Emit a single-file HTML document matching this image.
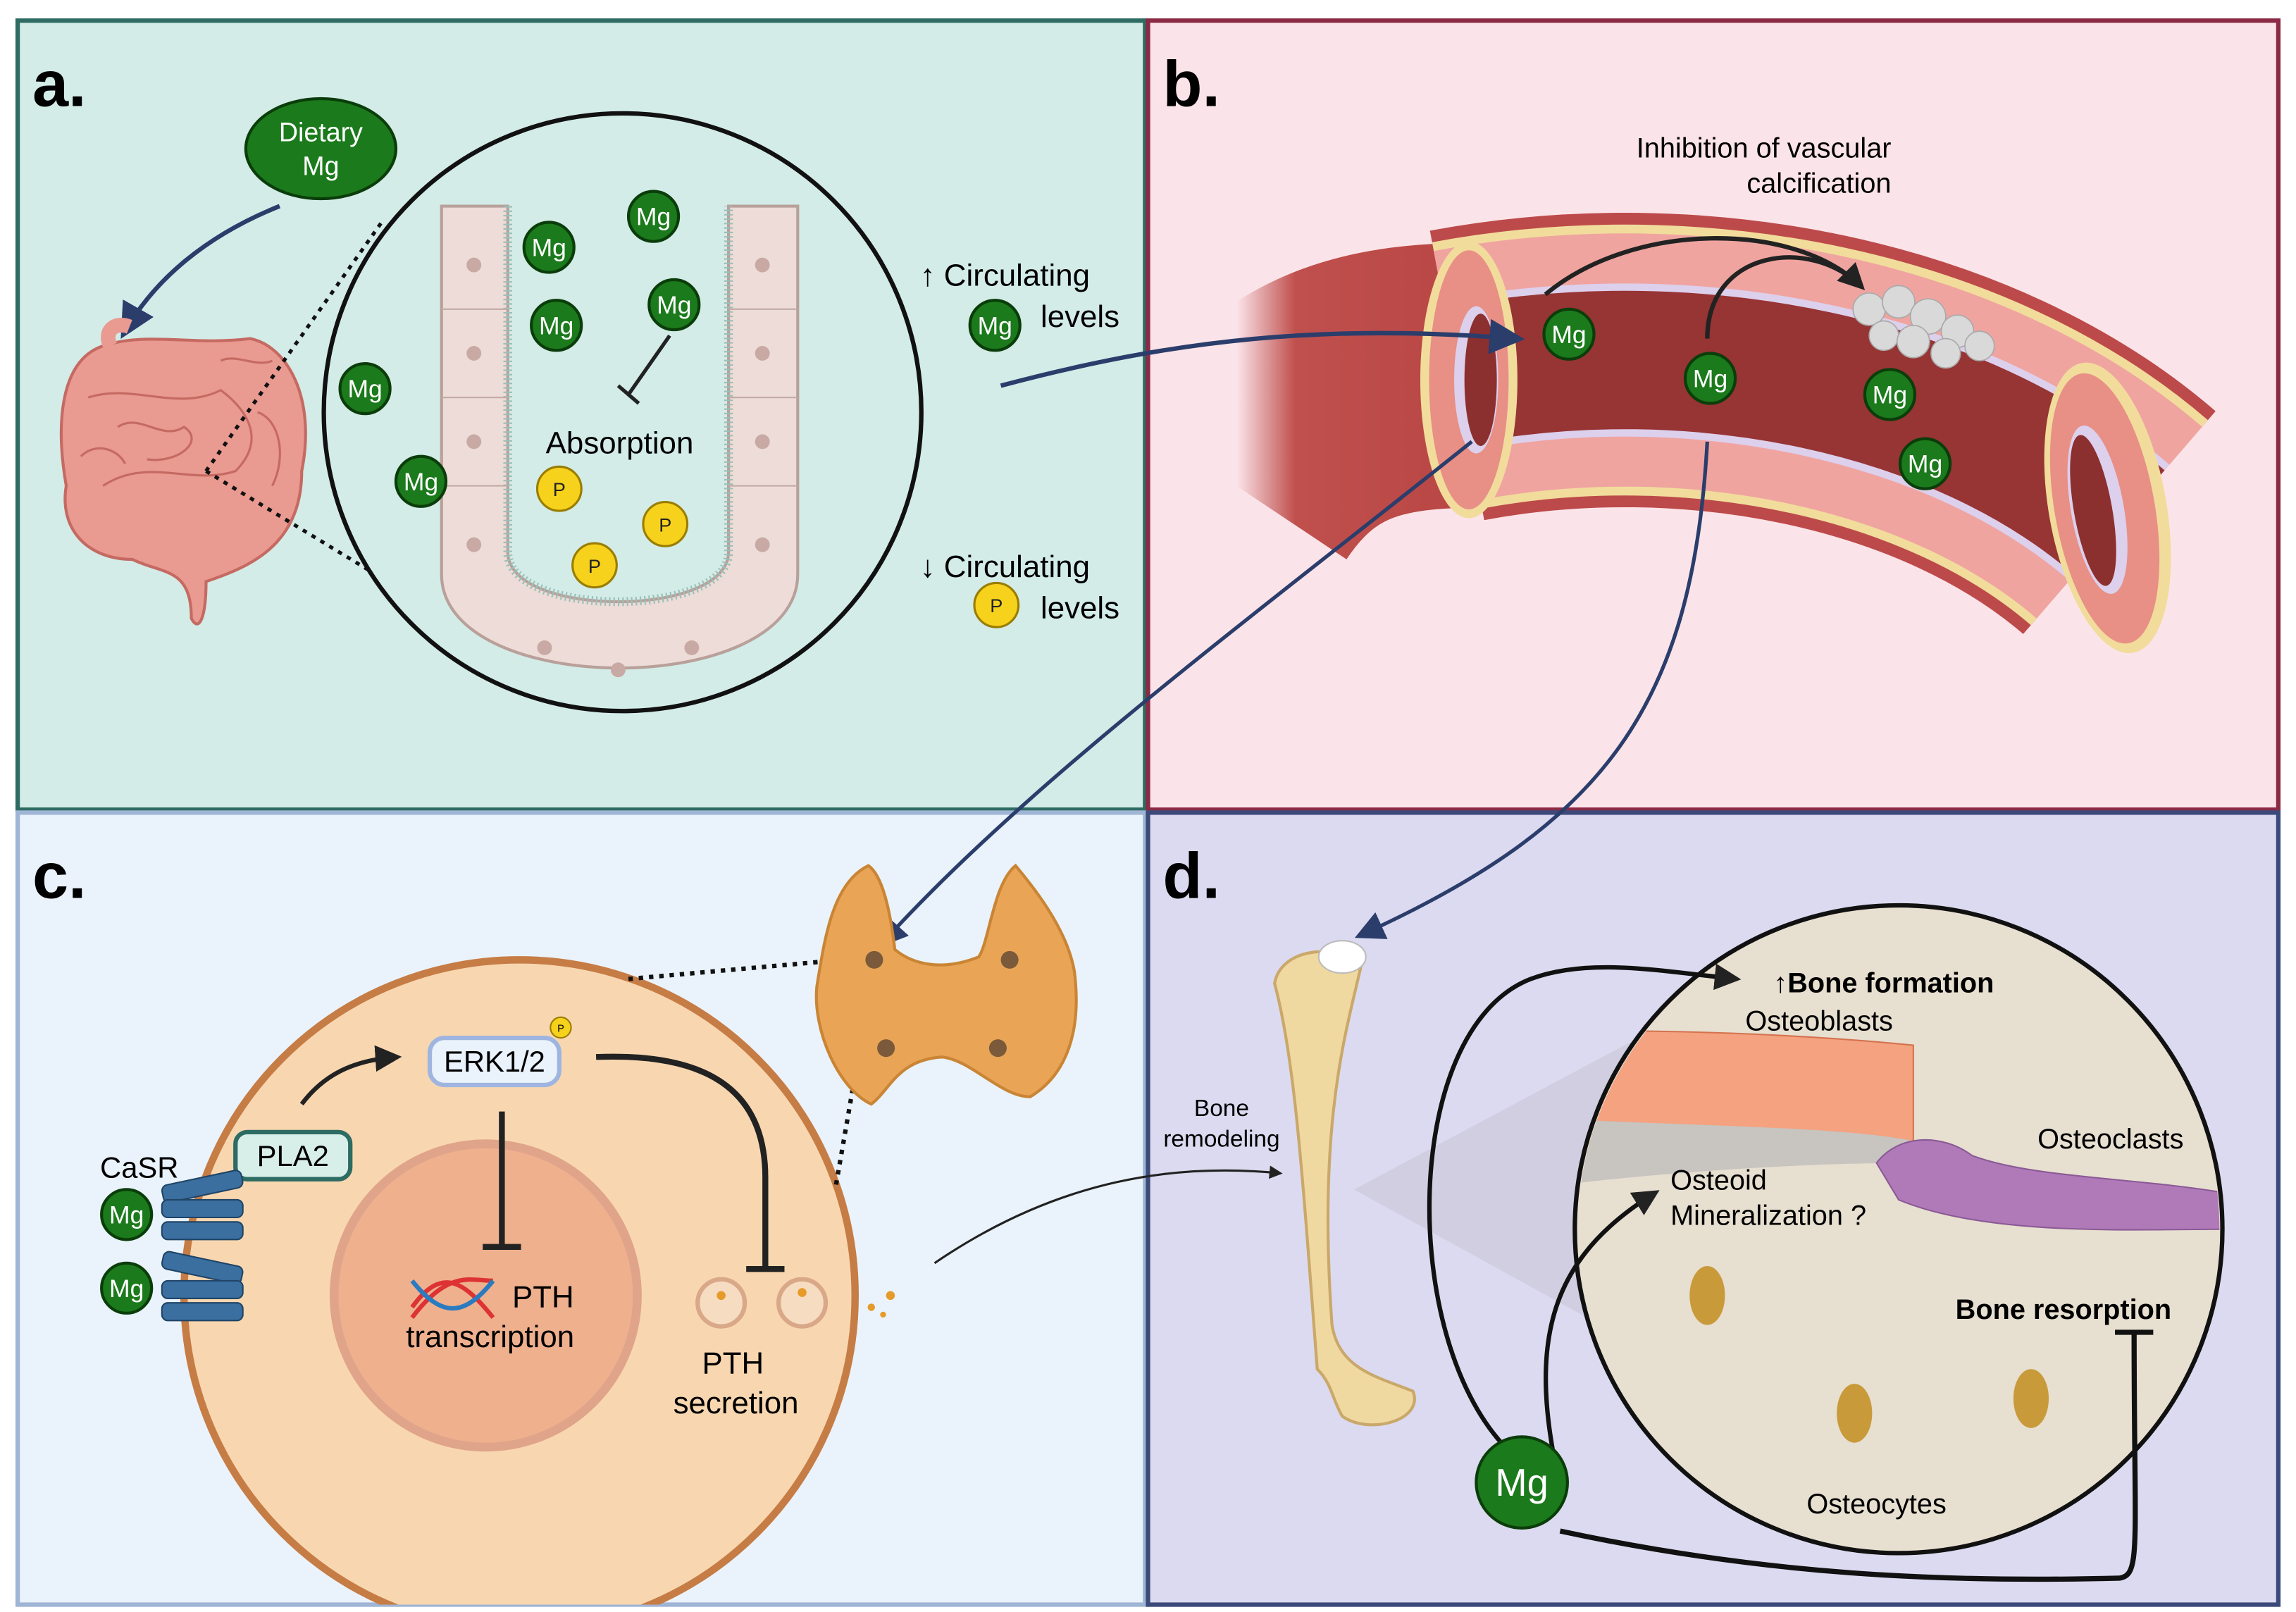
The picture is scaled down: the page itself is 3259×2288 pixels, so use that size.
<!DOCTYPE html>
<html><head><meta charset="utf-8"><style>
html,body{margin:0;padding:0;background:#fff;}
svg{display:block;}
text{font-family:"Liberation Sans",sans-serif;}
</style></head><body>
<svg width="3259" height="2288" viewBox="0 0 1560 1095" preserveAspectRatio="none" xmlns="http://www.w3.org/2000/svg">
<defs>
<marker id="ah" markerWidth="8" markerHeight="8" refX="6" refY="4" orient="auto" markerUnits="strokeWidth"><path d="M0,0 L8,4 L0,8 z" fill="#2b3d6b"/></marker>
<marker id="ak" markerWidth="6" markerHeight="6" refX="5" refY="3" orient="auto" markerUnits="strokeWidth"><path d="M0,0 L6,3 L0,6 z" fill="#222"/></marker>
<linearGradient id="fadeL" x1="0" x2="1" y1="0" y2="0"><stop offset="0" stop-color="#c0504d" stop-opacity="0"/><stop offset="0.25" stop-color="#c0504d"/><stop offset="1" stop-color="#b84644"/></linearGradient>
<clipPath id="cc"><rect x="12" y="552" width="766" height="538"/></clipPath>
<clipPath id="dc"><circle cx="1290" cy="835" r="218"/></clipPath>
<g id="mg"><circle r="17" fill="#1b7a1b" stroke="#0b3d0b" stroke-width="2"/><text y="6" text-anchor="middle" font-size="17" fill="#fff">Mg</text></g>
<g id="p"><circle r="15" fill="#f7d21c" stroke="#9a7d00" stroke-width="1.5"/><text y="5" text-anchor="middle" font-size="13" fill="#222">P</text></g>
</defs>
<!-- panels -->
<rect x="12" y="14" width="766" height="536" fill="#d3ece8" stroke="#2d6b63" stroke-width="3"/>
<rect x="780" y="14" width="768" height="536" fill="#fbe4e9" stroke="#8b2a45" stroke-width="3"/>
<rect x="12" y="552" width="766" height="538" fill="#eaf3fb" stroke="#9fb5d5" stroke-width="3"/>
<rect x="780" y="552" width="768" height="538" fill="#dcdaf0" stroke="#3c4a7a" stroke-width="3"/>
<text x="22" y="72" font-size="44" font-weight="bold">a.</text>
<text x="790" y="72" font-size="44" font-weight="bold">b.</text>
<text x="22" y="610" font-size="44" font-weight="bold">c.</text>
<text x="790" y="610" font-size="44" font-weight="bold">d.</text>

<!-- Panel a -->
<ellipse cx="218" cy="101" rx="51" ry="34" fill="#1b7a1b" stroke="#0b3d0b" stroke-width="2"/>
<text x="218" y="96" text-anchor="middle" font-size="18" fill="#fff">Dietary</text>
<text x="218" y="119" text-anchor="middle" font-size="18" fill="#fff">Mg</text>
<path d="M190,140 C140,160 105,190 85,225" fill="none" stroke="#2b3d6b" stroke-width="3" marker-end="url(#ah)"/>
<!-- intestine -->
<path d="M70,235 C40,245 38,290 45,330 C40,360 60,380 90,380 C110,390 130,385 130,420 C135,430 140,420 140,395 C170,385 205,370 205,320 C215,270 195,235 170,230 C130,235 100,225 70,235 z" fill="#e99a91" stroke="#c56a62" stroke-width="2"/>
<g fill="none" stroke="#c56a62" stroke-width="1.5"><path d="M60,270 C90,260 120,280 150,265 C170,280 180,300 160,320 C130,330 100,310 70,330"/><path d="M80,290 C95,280 110,300 125,290 C140,300 120,315 100,312"/><path d="M55,310 C65,300 80,305 85,315"/><path d="M150,245 C160,240 175,250 185,245"/><path d="M175,280 C190,285 195,310 185,330"/></g>
<path d="M75,235 C70,225 78,218 88,222" fill="none" stroke="#e99a91" stroke-width="10"/>
<path d="M140,320 L260,150 M140,320 L255,390" stroke="#111" stroke-width="2.5" stroke-dasharray="3,4"/>
<circle cx="423" cy="280" r="203" fill="#d3ece8" stroke="#111" stroke-width="3"/>
<!-- villus U -->
<path d="M300,140 L345,140 L345,375 C345,420 495,420 495,375 L495,140 L542,140 L542,390 C542,475 300,475 300,390 z" fill="#eddcd8" stroke="#b9a09a" stroke-width="2"/>
<path d="M345,140 L345,375 C345,420 495,420 495,375 L495,140" fill="none" stroke="#9ac0b8" stroke-width="6" stroke-dasharray="1,2"/>
<g fill="#c9a9a4"><circle cx="322" cy="180" r="5"/><circle cx="322" cy="240" r="5"/><circle cx="322" cy="300" r="5"/><circle cx="322" cy="370" r="5"/><circle cx="518" cy="180" r="5"/><circle cx="518" cy="240" r="5"/><circle cx="518" cy="300" r="5"/><circle cx="518" cy="370" r="5"/><circle cx="370" cy="440" r="5"/><circle cx="420" cy="455" r="5"/><circle cx="470" cy="440" r="5"/></g>
<g stroke="#c4aaa5" stroke-width="1"><path d="M300,210 H345 M300,270 H345 M300,330 H345 M495,210 H542 M495,270 H542 M495,330 H542"/></g>
<use href="#mg" x="373" y="168"/><use href="#mg" x="444" y="147"/><use href="#mg" x="378" y="221"/><use href="#mg" x="458" y="207"/>
<use href="#mg" x="248" y="264"/><use href="#mg" x="286" y="327"/>
<path d="M455,228 L427,268 M420,262 L434,274" stroke="#222" stroke-width="2.5"/>
<text x="421" y="308" text-anchor="middle" font-size="21">Absorption</text>
<use href="#p" x="380" y="332"/><use href="#p" x="452" y="356"/><use href="#p" x="404" y="384"/>
<text x="625" y="194" font-size="21">↑  Circulating</text>
<use href="#mg" x="676" y="221"/><text x="707" y="222" font-size="21">levels</text>
<text x="625" y="392" font-size="21">↓  Circulating</text>
<use href="#p" x="677" y="411"/><text x="707" y="420" font-size="21">levels</text>

<!-- Panel b vessel -->
<text x="1285" y="107" text-anchor="end" font-size="19">Inhibition of vascular</text>
<text x="1285" y="131" text-anchor="end" font-size="19">calcification</text>
<path d="M840,330 C880,270 930,255 1000,255" fill="none" stroke="url(#fadeL)" stroke-width="180"/>
<path d="M990,255 C1150,225 1330,260 1440,355" fill="none" stroke="#bd4a4a" stroke-width="200"/>
<path d="M990,255 C1150,225 1330,260 1440,355" fill="none" stroke="#f1dc9c" stroke-width="184"/>
<path d="M990,255 C1150,225 1330,260 1440,355" fill="none" stroke="#f0a4a0" stroke-width="172"/>
<path d="M990,255 C1150,225 1330,260 1440,355" fill="none" stroke="#dcd0ec" stroke-width="104"/>
<path d="M990,255 C1150,225 1330,260 1440,355" fill="none" stroke="#973434" stroke-width="94"/>
<ellipse cx="998" cy="258" rx="33" ry="94" fill="#f1dc9c"/>
<ellipse cx="998" cy="258" rx="27" ry="88" fill="#e88f86"/>
<ellipse cx="1003" cy="258" rx="15" ry="50" fill="#dcd0ec"/>
<ellipse cx="1006" cy="258" rx="11" ry="45" fill="#8c2f2f"/>
<ellipse cx="1432" cy="345" rx="40" ry="100" fill="#f1dc9c" transform="rotate(-10 1432 345)"/>
<ellipse cx="1430" cy="345" rx="34" ry="93" fill="#e88f86" transform="rotate(-10 1432 345)"/>
<ellipse cx="1425" cy="345" rx="18" ry="58" fill="#dcd0ec" transform="rotate(-10 1432 345)"/>
<ellipse cx="1422" cy="345" rx="13" ry="52" fill="#8c2f2f" transform="rotate(-10 1432 345)"/>
<g fill="#d9d9d9" stroke="#aaa" stroke-width="0.8"><circle cx="1270" cy="210" r="11"/><circle cx="1290" cy="205" r="11"/><circle cx="1310" cy="215" r="12"/><circle cx="1330" cy="225" r="11"/><circle cx="1345" cy="235" r="10"/><circle cx="1280" cy="228" r="10"/><circle cx="1300" cy="232" r="11"/><circle cx="1322" cy="240" r="10"/></g>
<path d="M1160,230 C1160,170 1230,160 1265,195" fill="none" stroke="#222" stroke-width="3" marker-end="url(#ak)"/>
<path d="M1050,200 C1110,150 1220,150 1265,195" fill="none" stroke="#222" stroke-width="3"/>
<use href="#mg" x="1066" y="227"/><use href="#mg" x="1162" y="257"/><use href="#mg" x="1284" y="268"/><use href="#mg" x="1308" y="315"/>
<path d="M680,262 C800,230 900,220 1030,230" fill="none" stroke="#2b3d6b" stroke-width="3" marker-end="url(#ah)"/>
<path d="M1000,300 C850,420 700,530 600,640" fill="none" stroke="#2b3d6b" stroke-width="2.5" marker-end="url(#ah)"/>
<path d="M1160,300 C1150,480 1090,560 925,635" fill="none" stroke="#2b3d6b" stroke-width="2.5" marker-end="url(#ah)"/>

<!-- Panel c -->
<g clip-path="url(#cc)">
<circle cx="353" cy="880" r="228" fill="#f8d7b0" stroke="#c67c45" stroke-width="5"/>
</g>
<circle cx="330" cy="880" r="103" fill="#efb08e" stroke="#e0a48a" stroke-width="6"/>
<path d="M427,665 L595,650 M595,650 L568,805" stroke="#111" stroke-width="3" stroke-dasharray="3,4"/>
<!-- thyroid -->
<path d="M590,588 C565,600 560,640 555,670 C552,700 570,740 592,750 C605,740 610,720 640,718 C660,720 680,745 700,745 C725,730 735,700 730,660 C725,630 700,600 690,588 C675,600 672,640 665,650 C640,660 620,655 608,645 C605,620 600,595 590,588 z" fill="#e9a555" stroke="#c98535" stroke-width="2"/>
<g fill="#7a5a3a"><circle cx="594" cy="652" r="6"/><circle cx="686" cy="652" r="6"/><circle cx="602" cy="712" r="6"/><circle cx="678" cy="712" r="6"/></g>
<rect x="292" y="705" width="88" height="32" rx="10" fill="#eaf3fb" stroke="#9fb5e0" stroke-width="3"/>
<text x="336" y="728" text-anchor="middle" font-size="20">ERK1/2</text>
<circle cx="381" cy="698" r="7" fill="#f7d21c" stroke="#9a7d00"/><text x="381" y="701" text-anchor="middle" font-size="7">P</text>
<rect x="160" y="769" width="78" height="32" rx="8" fill="#d8efe9" stroke="#2d6b63" stroke-width="3"/>
<text x="199" y="792" text-anchor="middle" font-size="20">PLA2</text>
<path d="M205,750 C220,730 240,720 270,718" fill="none" stroke="#222" stroke-width="3" marker-end="url(#ak)"/>
<path d="M341,755 L341,847 M328,847 L354,847" stroke="#222" stroke-width="4"/>
<path d="M405,718 C480,715 520,740 520,800 L520,862 M507,862 L533,862" fill="none" stroke="#222" stroke-width="4"/>
<text x="68" y="800" font-size="20">CaSR</text>
<g fill="#3b6fa0" stroke="#1f4466"><rect x="110" y="800" width="55" height="12" rx="4" transform="rotate(-12 137 806)"/><rect x="110" y="815" width="55" height="12" rx="4"/><rect x="110" y="830" width="55" height="12" rx="4"/><rect x="110" y="855" width="55" height="12" rx="4" transform="rotate(12 137 861)"/><rect x="110" y="870" width="55" height="12" rx="4"/><rect x="110" y="885" width="55" height="12" rx="4"/></g>
<use href="#mg" x="86" y="825"/><use href="#mg" x="86" y="875"/>
<path d="M280,888 C300,860 315,870 335,895 M280,895 C305,862 320,870 335,870" fill="none" stroke="#d33" stroke-width="3"/>
<path d="M280,870 C300,895 315,895 335,870" fill="none" stroke="#2a7bbf" stroke-width="3"/>
<text x="348" y="888" font-size="21">PTH</text>
<text x="333" y="915" text-anchor="middle" font-size="21">transcription</text>
<circle cx="490" cy="885" r="16" fill="#f6dcc0" stroke="#d9a888" stroke-width="3"/>
<circle cx="545" cy="885" r="16" fill="#f6dcc0" stroke="#d9a888" stroke-width="3"/>
<g fill="#e69a2a"><circle cx="490" cy="880" r="3"/><circle cx="545" cy="878" r="3"/><circle cx="592" cy="888" r="2.5"/><circle cx="605" cy="880" r="3"/><circle cx="600" cy="893" r="2"/></g>
<text x="498" y="933" text-anchor="middle" font-size="21">PTH</text>
<text x="500" y="960" text-anchor="middle" font-size="21">secretion</text>
<path d="M635,858 C720,800 800,790 870,797" fill="none" stroke="#222" stroke-width="1.5" marker-end="url(#ak)"/>

<!-- Panel d -->
<polygon points="920,808 1160,680 1160,940" fill="#c9c6d8" opacity="0.6"/>
<path d="M866,668 C870,645 905,640 925,655 C915,700 895,760 905,900 C910,930 935,935 960,945 C968,965 930,975 912,962 C905,950 905,940 895,930 C885,800 880,720 866,668 z" fill="#f0d9a0" stroke="#c9a86a" stroke-width="2"/>
<ellipse cx="912" cy="650" rx="16" ry="11" fill="#fff" stroke="#bbb"/>
<text x="830" y="758" text-anchor="middle" font-size="16">Bone</text>
<text x="830" y="779" text-anchor="middle" font-size="16">remodeling</text>
<circle cx="1290" cy="835" r="220" fill="#e7dfd0" stroke="#111" stroke-width="3"/>
<g clip-path="url(#dc)">
<path d="M1060,700 C1100,700 1200,700 1300,710 L1300,780 L1060,785 z" fill="#f4a27f" stroke="#d4724f"/>
<path d="M1060,760 C1150,765 1250,765 1300,775 L1300,790 C1200,790 1100,800 1060,805 z" fill="#c8c4c0"/>
<path d="M1275,790 C1290,770 1320,770 1340,785 C1380,800 1450,800 1510,810 L1510,835 C1450,835 1350,840 1290,815 z" fill="#b07ab8" stroke="#8a5a95"/>
</g>
<text x="1236" y="700" text-anchor="middle" font-size="19">Osteoblasts</text>
<text x="1434" y="780" text-anchor="middle" font-size="19">Osteoclasts</text>
<text x="1135" y="808" font-size="19">Osteoid</text>
<text x="1135" y="832" font-size="19">Mineralization ?</text>
<text x="1402" y="896" text-anchor="middle" font-size="19" font-weight="bold">Bone resorption</text>
<text x="1275" y="1028" text-anchor="middle" font-size="19">Osteocytes</text>
<text x="1205" y="674" font-size="19" font-weight="bold">↑Bone formation</text>
<g fill="#c99a3a"><ellipse cx="1160" cy="880" rx="12" ry="20"/><ellipse cx="1260" cy="960" rx="12" ry="20"/><ellipse cx="1380" cy="950" rx="12" ry="20"/></g>
<path d="M1030,990 C950,920 950,700 1040,665 C1080,650 1130,660 1180,665" fill="none" stroke="#111" stroke-width="3" marker-end="url(#ak)"/>
<path d="M1055,985 C1040,900 1060,850 1125,810" fill="none" stroke="#111" stroke-width="3" marker-end="url(#ak)"/>
<path d="M1060,1040 C1200,1070 1320,1075 1440,1072 C1455,1070 1450,1050 1450,905 M1437,905 L1463,905" fill="none" stroke="#111" stroke-width="3.5"/>
<circle cx="1034" cy="1007" r="31" fill="#1b7a1b" stroke="#0b3d0b" stroke-width="2"/>
<text x="1034" y="1016" text-anchor="middle" font-size="26" fill="#fff">Mg</text>
</svg>
</body></html>
